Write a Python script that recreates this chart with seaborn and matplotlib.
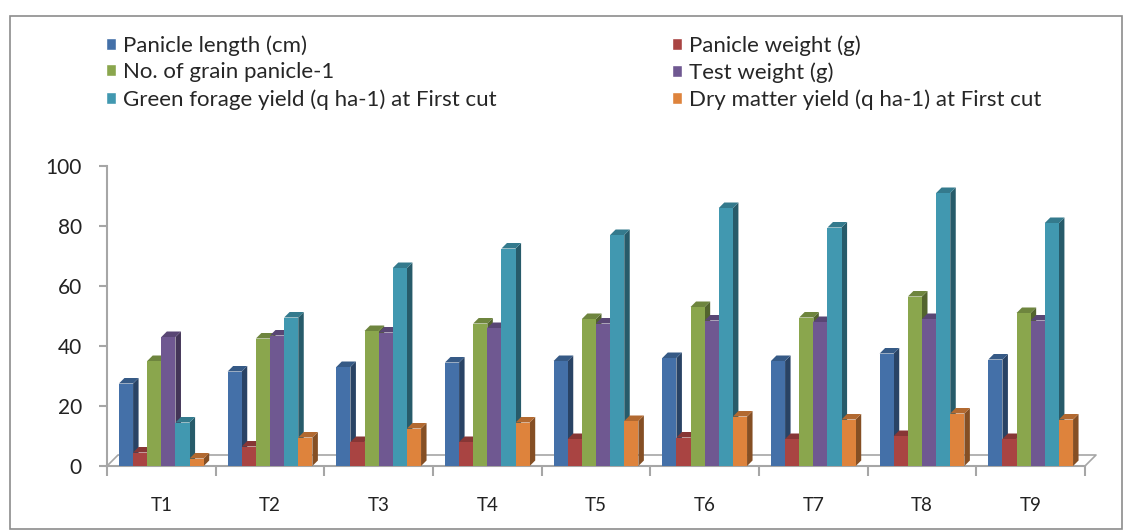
import matplotlib
matplotlib.use('Agg')
import matplotlib.pyplot as plt
from matplotlib.patches import Polygon, Rectangle
from matplotlib.colors import to_rgb
import seaborn as sns
import pandas as pd

treatments = ['T1', 'T2', 'T3', 'T4', 'T5', 'T6', 'T7', 'T8', 'T9']
series = ['Panicle length (cm)', 'Panicle weight (g)', 'No. of grain panicle-1',
          'Test weight (g)', 'Green forage yield (q ha-1) at First cut',
          'Dry matter yield (q ha-1) at First cut']
panicle_length = [27.5, 31.5, 33.0, 34.5, 35.0, 36.0, 35.0, 37.5, 35.5]
panicle_weight = [4.5, 6.5, 8.0, 8.0, 9.0, 9.5, 9.0, 10.0, 9.0]
grain_panicle = [35.0, 42.5, 45.0, 47.5, 49.0, 53.0, 49.5, 56.5, 51.0]
test_weight = [43.0, 43.5, 44.5, 46.0, 47.5, 48.5, 48.0, 49.0, 48.5]
green_forage = [14.5, 49.5, 66.0, 72.5, 77.0, 86.0, 79.5, 91.0, 81.0]
dry_matter = [2.5, 9.5, 12.5, 14.5, 15.0, 16.5, 15.5, 17.5, 15.5]
colors = ['#4470A8', '#A94442', '#8AA64D', '#6F5891', '#4198B0', '#DE833C']

values = [panicle_length, panicle_weight, grain_panicle, test_weight, green_forage, dry_matter]
rows = []
for name, vals in zip(series, values):
    for t, v in zip(treatments, vals):
        rows.append({'treatment': t, 'series': name, 'value': v})
df = pd.DataFrame(rows)

sns.set_style('white')
plt.rcParams['font.family'] = ['Lato', 'DejaVu Sans']

fig = plt.figure(figsize=(11.34, 5.31), dpi=100)
ax = fig.add_axes([107 / 1134, 1 - 466 / 531, 978 / 1134, 300 / 531])

sns.barplot(data=df, x='treatment', y='value', hue='series', hue_order=series,
            order=treatments, palette=colors, saturation=1, width=0.78, gap=0,
            linewidth=0, ax=ax, legend=False)
ax.set_xlim(-0.5, 8.5)
ax.set_ylim(0, 100)

# 3D-ish depth faces, derived from the drawn bars
depth_px = 5.5
dx = depth_px * 9 / 978
dy = depth_px * 100 / 300
bars = sorted(ax.patches, key=lambda p: p.get_x())
for i, p in enumerate(bars):
    x0, w, h = p.get_x(), p.get_width(), p.get_height()
    base = to_rgb(p.get_facecolor())
    side = tuple(c * 0.6 for c in base)
    top = tuple(c * 0.8 for c in base)
    z = 3 + i * 0.01
    p.set_zorder(z + 0.005)
    ax.add_patch(Polygon([(x0 + w, 0), (x0 + w + dx, dy), (x0 + w + dx, h + dy), (x0 + w, h)],
                         closed=True, facecolor=side, edgecolor='none', zorder=z, clip_on=False))
    ax.add_patch(Polygon([(x0, h), (x0 + dx, h + dy), (x0 + w + dx, h + dy), (x0 + w, h)],
                         closed=True, facecolor=top, edgecolor='none', zorder=z, clip_on=False))

# floor outline
grid_c = '#A6A6A6'
ax.plot([-0.5, -0.5 + dx * 2, 8.5 + dx * 2, 8.5], [0, dy * 2, dy * 2, 0],
        color=grid_c, lw=1.2, clip_on=False, zorder=1)

for s in ['top', 'right']:
    ax.spines[s].set_visible(False)
for s in ['left', 'bottom']:
    ax.spines[s].set_color(grid_c)
    ax.spines[s].set_linewidth(1.5)

ax.set_yticks([0, 20, 40, 60, 80, 100])
ax.tick_params(axis='y', which='both', left=True, length=6, color=grid_c, width=1.5,
               labelsize=15, pad=12, labelcolor='#222222')
ax.set_xticks(range(len(treatments)))
ax.set_xticklabels(treatments)
ax.set_xticks([i - 0.5 for i in range(len(treatments) + 1)], minor=True)
ax.tick_params(axis='x', which='major', length=0, labelsize=13.5, pad=22, labelcolor='#222222')
ax.tick_params(axis='x', which='minor', bottom=True, length=7, color=grid_c, width=1.5)
ax.set_xlabel('')
ax.set_ylabel('')

handles = [Rectangle((0, 0), 1, 1, facecolor=c) for c in colors]
order = [0, 2, 4, 1, 3, 5]
fig.legend([handles[i] for i in order], [series[i] for i in order], ncol=2,
           loc='upper left', bbox_to_anchor=(86 / 1134, 1 - 15 / 531), frameon=False,
           fontsize=16, handlelength=0.45, handleheight=0.45, handletextpad=0.3,
           labelspacing=0.3, columnspacing=7.9)

fig.patches.append(Rectangle((10 / 1134, 2 / 531), 1112 / 1134, 513 / 531,
                             transform=fig.transFigure, fill=False,
                             edgecolor='#8C8C8C', lw=1.2))

fig.savefig('out.png', dpi=100)
